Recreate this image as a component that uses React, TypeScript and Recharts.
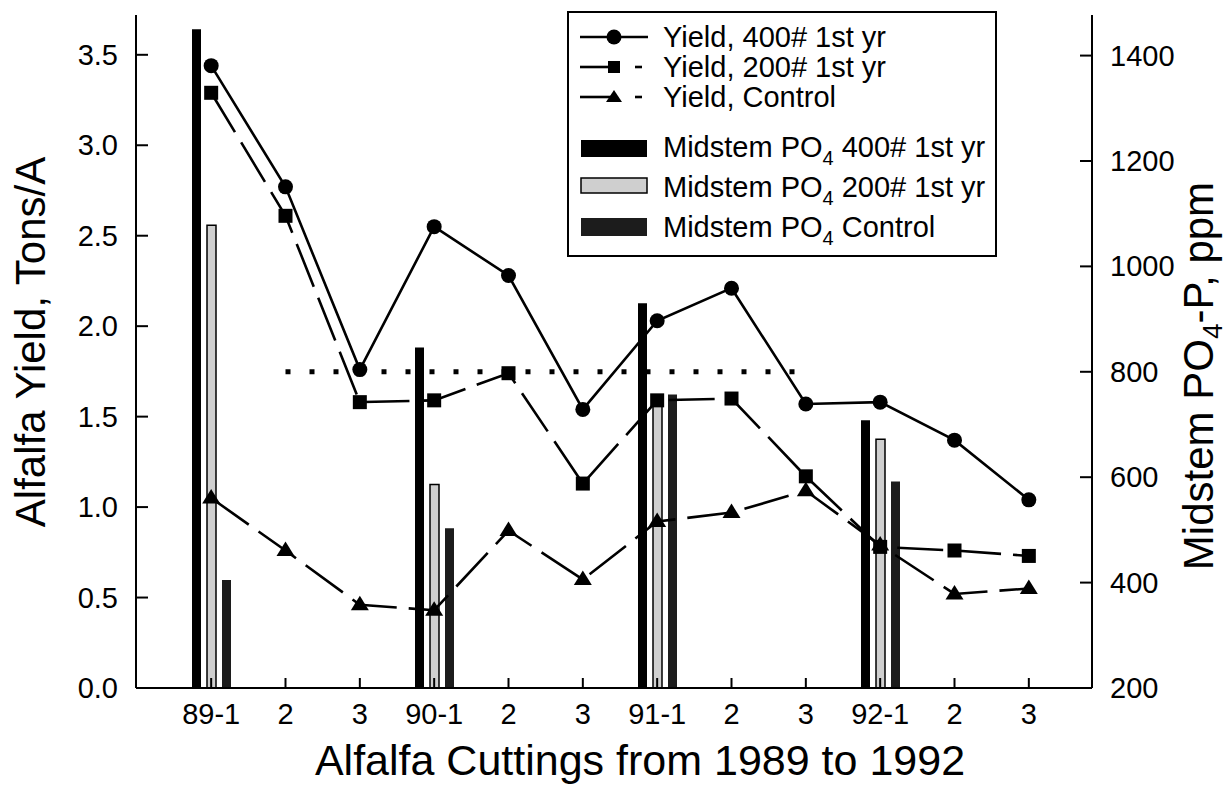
import {
  Bar,
  ComposedChart,
  Label,
  Legend,
  Line,
  ReferenceLine,
  XAxis,
  YAxis,
} from 'recharts';

const FONT = '"Liberation Sans", Arial, sans-serif';

const cuttings = ['89-1', '89-2', '89-3', '90-1', '90-2', '90-3', '91-1', '91-2', '91-3', '92-1', '92-2', '92-3'];
const cuttingLabels = ['89-1', '2', '3', '90-1', '2', '3', '91-1', '2', '3', '92-1', '2', '3'];

// alfalfa yield, tons/A (left axis)
const yield400 = [3.44, 2.77, 1.76, 2.55, 2.28, 1.54, 2.03, 2.21, 1.57, 1.58, 1.37, 1.04];
const yield200 = [3.29, 2.61, 1.58, 1.59, 1.74, 1.13, 1.59, 1.6, 1.17, 0.78, 0.76, 0.73];
const yieldControl = [1.05, 0.76, 0.46, 0.43, 0.87, 0.6, 0.92, 0.97, 1.09, 0.79, 0.52, 0.55];

// midstem PO4-P, ppm (right axis), first cutting of each year only
const po4At400 = [1450, null, null, 846, null, null, 930, null, null, 708, null, null];
const po4At200 = [1078, null, null, 586, null, null, 748, null, null, 672, null, null];
const po4Control = [405, null, null, 503, null, null, 757, null, null, 592, null, null];

const yieldTicks = [0, 0.5, 1, 1.5, 2, 2.5, 3, 3.5];
const po4Ticks = [200, 400, 600, 800, 1000, 1200, 1400];
const criticalPo4 = 800;

const data = cuttings.map((c, i) => ({
  cutting: c,
  y400: yield400[i],
  y200: yield200[i],
  yCtl: yieldControl[i],
  p400: po4At400[i],
  p200: po4At200[i],
  pCtl: po4Control[i],
}));

function XTick({ x, y, payload }: any) {
  const label = cuttingLabels[cuttings.indexOf(payload.value)];
  return (
    <g>
      <line x1={x} x2={x} y1={y} y2={y - 10} stroke="#000" strokeWidth={2} />
      <text x={x} y={y + 36} textAnchor="middle" fontSize={29} fontFamily={FONT} fill="#000">
        {label}
      </text>
    </g>
  );
}

function LeftTick({ x, y, payload }: any) {
  return (
    <g>
      <line x1={x + 18} x2={x + 30} y1={y} y2={y} stroke="#000" strokeWidth={2} />
      <text x={x} y={y + 10} textAnchor="end" fontSize={29} fontFamily={FONT} fill="#000">
        {Number(payload.value).toFixed(1)}
      </text>
    </g>
  );
}

function RightTick({ x, y, payload }: any) {
  return (
    <g>
      {payload.value > 200 && (
        <line x1={x - 18} x2={x - 30} y1={y} y2={y} stroke="#000" strokeWidth={2} />
      )}
      <text x={x} y={y + 10} textAnchor="start" fontSize={29} fontFamily={FONT} fill="#000">
        {payload.value}
      </text>
    </g>
  );
}

const circleDot = (p: any) => (
  <circle key={`c-${p.index}`} cx={p.cx} cy={p.cy} r={7.5} fill="#000" />
);
const squareDot = (p: any) => (
  <rect key={`s-${p.index}`} x={p.cx - 7} y={p.cy - 7} width={14} height={14} fill="#000" />
);
const triangleDot = (p: any) => (
  <polygon
    key={`t-${p.index}`}
    points={`${p.cx},${p.cy - 9} ${p.cx + 9},${p.cy + 5.5} ${p.cx - 9},${p.cy + 5.5}`}
    fill="#000"
  />
);

function LegendBox() {
  const txt = { fontSize: 29, fontFamily: FONT, fill: '#000' } as const;
  const sub = (
    <tspan dy={8} fontSize={20}>
      4
    </tspan>
  );
  return (
    <svg width={430} height={246} style={{ display: 'block' }}>
      <rect x={1} y={1} width={428} height={244} fill="#fff" stroke="#000" strokeWidth={2} />
      <line x1={13} x2={81} y1={26} y2={26} stroke="#000" strokeWidth={2.6} />
      <circle cx={47} cy={26} r={7.5} fill="#000" />
      <text x={96} y={36} {...txt}>Yield, 400# 1st yr</text>

      <line x1={13} x2={45} y1={56} y2={56} stroke="#000" strokeWidth={2.6} />
      <line x1={68} x2={75} y1={56} y2={56} stroke="#000" strokeWidth={2.6} />
      <rect x={41} y={50} width={12} height={12} fill="#000" />
      <text x={96} y={66} {...txt}>Yield, 200# 1st yr</text>

      <line x1={13} x2={45} y1={86} y2={86} stroke="#000" strokeWidth={2.6} />
      <line x1={68} x2={75} y1={86} y2={86} stroke="#000" strokeWidth={2.6} />
      <polygon points="47,79 55,91 39,91" fill="#000" />
      <text x={96} y={96} {...txt}>Yield, Control</text>

      <rect x={14} y={129} width={66} height={17} fill="#000" />
      <text x={96} y={146} {...txt}>
        Midstem PO{sub}
        <tspan dy={-8}> 400# 1st yr</tspan>
      </text>

      <rect x={14} y={167} width={66} height={15} fill="#cfcfcf" stroke="#000" strokeWidth={1.5} />
      <text x={96} y={186} {...txt}>
        Midstem PO{sub}
        <tspan dy={-8}> 200# 1st yr</tspan>
      </text>

      <rect x={14} y={207} width={66} height={18} fill="#1c1c1c" />
      <text x={96} y={226} {...txt}>
        Midstem PO{sub}
        <tspan dy={-8}> Control</tspan>
      </text>
    </svg>
  );
}

export default function App() {
  return (
    <div
      style={{
        position: 'absolute',
        left: 0,
        top: 0,
        width: 1227,
        height: 786,
        background: '#fff',
      }}
    >
      <ComposedChart
        width={1227}
        height={786}
        data={data}
        margin={{ top: 15, right: 0, bottom: 0, left: 0 }}
        barSize={9}
        barGap={6}
        style={{ fontFamily: FONT }}
      >
        <XAxis
          dataKey="cutting"
          height={98}
          interval={0}
          padding={{ left: 38, right: 26 }}
          tick={XTick}
          tickLine={false}
          tickSize={0}
          tickMargin={0}
          axisLine={{ stroke: '#000', strokeWidth: 2 }}
        >
          <Label
            content={() => (
              <text x={640} y={775} textAnchor="middle" fontSize={43} fontFamily={FONT} fill="#000">
                Alfalfa Cuttings from 1989 to 1992
              </text>
            )}
          />
        </XAxis>
        <YAxis
          yAxisId="left"
          width={136}
          domain={[0, 3.72]}
          ticks={yieldTicks}
          allowDataOverflow
          tick={LeftTick}
          tickLine={false}
          tickSize={0}
          tickMargin={18}
          axisLine={{ stroke: '#000', strokeWidth: 2 }}
        >
          <Label
            content={() => (
              <text
                x={45}
                y={342}
                transform="rotate(-90, 45, 342)"
                textAnchor="middle"
                fontSize={42}
                fontFamily={FONT}
                fill="#000"
              >
                Alfalfa Yield, Tons/A
              </text>
            )}
          />
        </YAxis>
        <YAxis
          yAxisId="right"
          orientation="right"
          width={135}
          domain={[200, 1477]}
          ticks={po4Ticks}
          allowDataOverflow
          tick={RightTick}
          tickLine={false}
          tickSize={0}
          tickMargin={18}
          axisLine={{ stroke: '#000', strokeWidth: 2 }}
        >
          <Label
            content={() => (
              <text
                x={1213}
                y={376}
                transform="rotate(-90, 1213, 376)"
                textAnchor="middle"
                fontSize={42}
                fontFamily={FONT}
                fill="#000"
              >
                Midstem PO
                <tspan dy={9} fontSize={28}>
                  4
                </tspan>
                <tspan dy={-9}>-P, ppm</tspan>
              </text>
            )}
          />
        </YAxis>

        <Legend
          layout="horizontal"
          verticalAlign="middle"
          align="center"
          content={() => <LegendBox />}
          wrapperStyle={{ left: 567, top: 11, width: 430, height: 246 }}
        />

        <ReferenceLine
          yAxisId="right"
          segment={[
            { x: '89-2', y: criticalPo4 },
            { x: '91-3', y: criticalPo4 },
          ]}
          stroke="#000"
          strokeWidth={5}
          strokeDasharray="5 19"
        />

        <Bar yAxisId="right" dataKey="p400" name="Midstem PO4 400# 1st yr" fill="#000" isAnimationActive={false} />
        <Bar
          yAxisId="right"
          dataKey="p200"
          name="Midstem PO4 200# 1st yr"
          fill="#cfcfcf"
          stroke="#000"
          strokeWidth={1.5}
          isAnimationActive={false}
        />
        <Bar yAxisId="right" dataKey="pCtl" name="Midstem PO4 Control" fill="#1c1c1c" isAnimationActive={false} />

        <Line
          yAxisId="left"
          dataKey="y400"
          name="Yield, 400# 1st yr"
          stroke="#000"
          strokeWidth={2.6}
          dot={circleDot}
          activeDot={false}
          isAnimationActive={false}
        />
        <Line
          yAxisId="left"
          dataKey="y200"
          name="Yield, 200# 1st yr"
          stroke="#000"
          strokeWidth={2.6}
          strokeDasharray="46 12"
          dot={squareDot}
          activeDot={false}
          isAnimationActive={false}
        />
        <Line
          yAxisId="left"
          dataKey="yCtl"
          name="Yield, Control"
          stroke="#000"
          strokeWidth={2.6}
          strokeDasharray="46 12"
          dot={triangleDot}
          activeDot={false}
          isAnimationActive={false}
        />
      </ComposedChart>
    </div>
  );
}
